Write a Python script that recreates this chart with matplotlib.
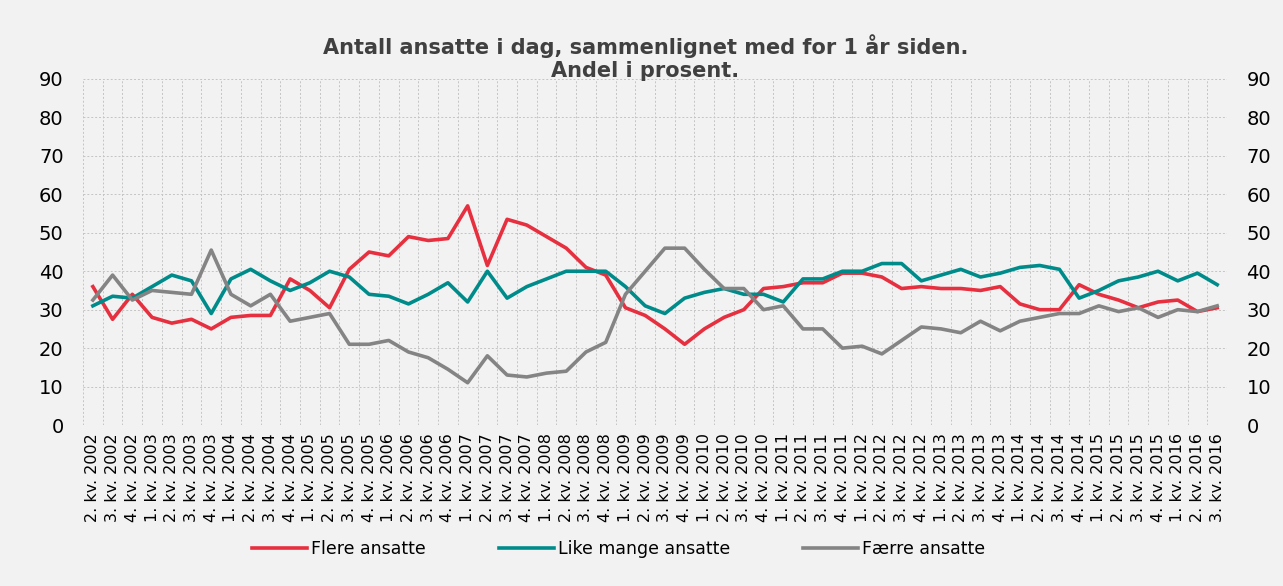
import numpy as np
import matplotlib.pyplot as plt

# quarters 2. kv. 2002 .. 3. kv. 2016
quarters = [(q, y) for y in range(2002, 2017) for q in range(1, 5)]
quarters = [p for p in quarters if (2002, 2) <= (p[1], p[0]) <= (2016, 3)]
labels = [f"{q}. kv. {y}" for q, y in quarters]

flere = [36, 27.5, 34, 28, 26.5, 27.5, 25, 28, 28.5, 28.5, 38, 35, 30.5, 40.5, 45, 44,
         49, 48, 48.5, 57, 41.5, 53.5, 52, 49, 46, 41, 39, 30.5, 28.5, 25, 21, 25,
         28, 30, 35.5, 36, 37, 37, 39.5, 39.5, 38.5, 35.5, 36, 35.5, 35.5, 35, 36, 31.5,
         30, 30, 36.5, 34, 32.5, 30.5, 32, 32.5, 29.5, 30.5]
like = [31, 33.5, 33, 36, 39, 37.5, 29, 38, 40.5, 37.5, 35, 37, 40, 38.5, 34, 33.5,
        31.5, 34, 37, 32, 40, 33, 36, 38, 40, 40, 40, 36, 31, 29, 33, 34.5,
        35.5, 34, 34, 32, 38, 38, 40, 40, 42, 42, 37.5, 39, 40.5, 38.5, 39.5, 41,
        41.5, 40.5, 33, 35, 37.5, 38.5, 40, 37.5, 39.5, 36.5]
faerre = [32.5, 39, 32.5, 35, 34.5, 34, 45.5, 34, 31, 34, 27, 28, 29, 21, 21, 22,
          19, 17.5, 14.5, 11, 18, 13, 12.5, 13.5, 14, 19, 21.5, 34, 40, 46, 46, 40.5,
          35.5, 35.5, 30, 31, 25, 25, 20, 20.5, 18.5, 22, 25.5, 25, 24, 27, 24.5, 27,
          28, 29, 29, 31, 29.5, 30.5, 28, 30, 29.5, 31]

bg = '#f2f2f2'
fig = plt.figure(figsize=(12.83, 5.86), dpi=100, facecolor=bg)
ax = fig.add_axes([0.0647, 0.2747, 0.8917, 0.5905], facecolor=bg)

x = np.arange(len(labels))
ax.plot(x, flere, color='#e6303f', lw=2.6, label='Flere ansatte')
ax.plot(x, like, color='#008b8b', lw=2.6, label='Like mange ansatte')
ax.plot(x, faerre, color='#848484', lw=2.6, label='Færre ansatte')

ax.set_xlim(-0.5, len(labels) - 0.5)
ax.set_ylim(0, 90)
ax.set_yticks(range(0, 91, 10))
ax.set_xticks(x)
ax.set_xticklabels(labels, rotation=90, fontsize=11.5)
ax.set_xticks(np.arange(-0.5, len(labels), 1), minor=True)
ax.tick_params(axis='y', labelsize=14, length=0, pad=14)
ax.tick_params(axis='x', which='both', length=0, pad=6)
ax.grid(True, which='minor', axis='x', color='#c4c4c4', linestyle=(0, (2, 2)), lw=0.7)
ax.grid(True, which='major', axis='y', color='#c4c4c4', linestyle=(0, (2, 2)), lw=0.7)
for s in ax.spines.values():
    s.set_visible(False)

ax2 = ax.twinx()
ax2.set_ylim(0, 90)
ax2.set_yticks(range(0, 91, 10))
ax2.tick_params(axis='y', labelsize=14, length=0, pad=14)
for s in ax2.spines.values():
    s.set_visible(False)

fig.text(0.503, 0.902, 'Antall ansatte i dag, sammenlignet med for 1 år siden.\nAndel i prosent.',
         ha='center', va='center', fontsize=15, fontweight='bold', color='#404040',
         linespacing=1.15)

fig.legend(loc='center', bbox_to_anchor=(0.482, 0.063), ncol=3, frameon=False,
           fontsize=12.5, handlelength=3.2, columnspacing=4.2, handletextpad=0.2)

fig.savefig('out.png', dpi=100, facecolor=bg)
